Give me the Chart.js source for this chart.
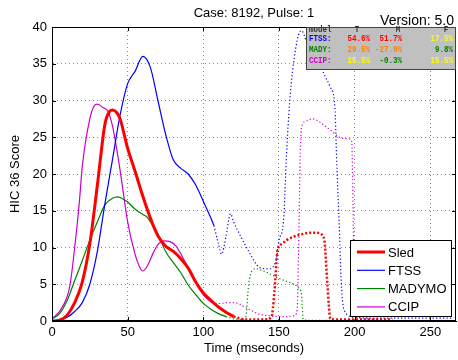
<!DOCTYPE html>
<html>
<head>
<meta charset="utf-8">
<script src="https://cdn.jsdelivr.net/npm/chart.js@4.4.1/dist/chart.umd.min.js"></script>
<style>
  html, body { margin: 0; padding: 0; background: #fff; }
</style>
</head>
<body>
<canvas id="hic" width="458" height="360"></canvas>
<script>
// values (time in ms, HIC 36 score)
const models = ["Sled", "FTSS", "MADYMO", "CCIP"];
const colors = ["#ff0000", "#0000ff", "#008000", "#cc00cc"];

const sledT = [0, 5, 10, 15, 20, 25, 30, 35, 38, 40, 43, 45, 50, 55, 60, 65, 70, 75, 80, 85, 90, 95, 100, 105, 110, 115, 120];
const sledY = [0, 0.1, 0.8, 2.5, 5.3, 10.5, 18.5, 26.8, 28.5, 28.7, 28.3, 27.5, 23.5, 20.3, 17, 14, 11.6, 10.2, 9.5, 8.5, 7.2, 5.3, 3.8, 2.8, 1.9, 1.2, 0.6];
const sledDotT = [120, 125, 130, 135, 140, 145, 147, 149, 152, 155, 160, 165, 170, 175, 178, 180, 182, 184, 190, 200, 210, 225];
const sledDotY = [0.6, 0.3, 0.2, 0.2, 0.2, 0.5, 4, 9.5, 10.5, 11, 11.5, 11.8, 12, 12, 11.8, 11, 5, 0.3, 0.2, 0.2, 0.2, 0.2];

const ftssT = [0, 5, 10, 15, 20, 25, 30, 35, 40, 45, 50, 55, 60, 65, 70, 75, 80, 85, 90, 95, 100, 105, 107];
const ftssY = [0, 0.2, 0.5, 1.3, 2.5, 5, 9.5, 16, 22, 28, 32.3, 34, 36, 34.5, 30, 25.5, 22, 20.8, 20, 18.5, 16.3, 14, 13];
const ftssDotT = [107, 110, 112, 115, 117, 118, 120, 124, 131, 137, 143, 148, 150, 153, 155, 157, 159, 161, 163, 165, 168, 172, 176, 180, 184, 187, 188, 190, 191, 193, 200, 220, 240, 265];
const ftssDotY = [13, 10.5, 9.1, 11.5, 14, 14.6, 13.5, 11.8, 9.1, 7.3, 7.1, 8.2, 11, 13.6, 22.7, 29.6, 34, 37, 39, 39.5, 38.2, 37, 35.5, 33.5, 31.8, 29, 22.7, 12, 6, 1.5, 0.5, 0.4, 0.4, 0.4];

const madyT = [0, 5, 10, 15, 20, 25, 30, 35, 40, 43, 45, 50, 55, 60, 63, 65, 70, 75, 80, 85, 90, 95, 100, 105, 110, 115];
const madyY = [0.3, 1, 2.8, 5.5, 8.2, 11, 13.5, 15.8, 16.7, 16.9, 16.8, 16.2, 15.2, 14.5, 14.1, 13.5, 11.8, 9.5, 8, 6.6, 4.9, 3.6, 2.4, 1.6, 1, 0.6];
const madyDotT = [115, 120, 125, 128, 130, 132, 135, 140, 145, 150, 155, 160, 163, 165, 166, 170, 180, 200];
const madyDotY = [0.6, 0.3, 0.2, 0.5, 5, 6.8, 7.1, 6.8, 6.3, 5.8, 5.4, 5, 4.5, 3.5, 0.2, 0.1, 0.1, 0.1];

const ccipT = [0, 5, 10, 12, 15, 18, 20, 25, 28, 30, 34, 37, 40, 45, 50, 55, 58, 60, 63, 67, 70, 74, 78, 82, 86, 90, 95, 100, 105, 108];
const ccipY = [0.3, 1.3, 3.3, 5, 10, 16, 21, 27.5, 29.3, 29.5, 29, 28.5, 26.5, 20.5, 13.5, 9, 7.3, 6.8, 7.5, 9.3, 10.4, 10.9, 10.8, 10.2, 8.8, 7.2, 5.2, 3.6, 2.6, 2.3];
const ccipDotT = [108, 112, 116, 120, 124, 128, 132, 136, 140, 145, 150, 155, 160, 162, 163, 164, 165, 168, 172, 176, 180, 185, 190, 195, 198, 199, 200, 210, 220];
const ccipDotY = [2.3, 2.4, 2.5, 2.5, 2.3, 1.8, 1.4, 1, 0.8, 0.7, 0.6, 0.6, 0.7, 1.5, 10, 22, 26.4, 27.2, 27.5, 27.2, 26.6, 25.8, 25, 24.8, 24.6, 15, 0.5, 0.3, 0.3];

const xTicks = [0, 50, 100, 150, 200, 250];
const yTicks = [0, 5, 10, 15, 20, 25, 30, 35, 40];

// correlation table (T, M, F) shown top right
const tableRows = ["FTSS:", "MADY:", "CCIP:"];
const tableT = ["54.6%", "29.5%", "15.5%"];
const tableM = ["51.7%", "-27.9%", "-0.3%"];
const tableF = ["17.5%", "9.8%", "15.5%"];
const tableTColors = ["#ff0000", "#ff8000", "#ffff00"];
const tableMColors = ["#ff0000", "#ff8000", "#008000"];
const tableFColors = ["#ffff00", "#008000", "#ffff00"];

const solid = [[sledT, sledY], [ftssT, ftssY], [madyT, madyY], [ccipT, ccipY]];
const dotted = [[sledDotT, sledDotY], [ftssDotT, ftssDotY], [madyDotT, madyDotY], [ccipDotT, ccipDotY]];

function pts(t, y) {
    return t.map((v, i) => ({x: v, y: y[i]}));
}

const datasets = [];
models.forEach((m, i) => {
    datasets.push({
        label: m,
        data: pts(solid[i][0], solid[i][1]),
        borderColor: colors[i],
        borderWidth: i === 0 ? 3 : 1.2,
        pointRadius: 0,
        cubicInterpolationMode: 'monotone'
    });
});
models.forEach((m, i) => {
    datasets.push({
        label: m + " (post)",
        data: pts(dotted[i][0], dotted[i][1]),
        borderColor: colors[i],
        borderWidth: i === 0 ? 2.5 : 1.2,
        borderDash: i === 0 ? [2, 2] : [1.2, 2.3],
        pointRadius: 0,
        cubicInterpolationMode: 'monotone'
    });
});

const font = "Liberation Sans, Arial, sans-serif";

// narrow text for the table cells
function cell(ctx, txt, x, y, align) {
    ctx.save();
    ctx.translate(x, y);
    ctx.scale(0.88, 1);
    ctx.textAlign = align;
    ctx.fillText(txt, 0, 0);
    ctx.restore();
}

const frame = {
    id: 'frame',
    afterDatasetsDraw(chart) {
        const {ctx, chartArea: a, scales} = chart;
        ctx.save();
        // inward tick marks on all four sides
        ctx.strokeStyle = "#000";
        ctx.lineWidth = 1;
        ctx.beginPath();
        xTicks.forEach(v => {
            const px = Math.round(scales.x.getPixelForValue(v)) + 0.5;
            ctx.moveTo(px, a.bottom); ctx.lineTo(px, a.bottom - 4);
            ctx.moveTo(px, a.top); ctx.lineTo(px, a.top + 4);
        });
        yTicks.forEach(v => {
            const py = Math.round(scales.y.getPixelForValue(v)) + 0.5;
            ctx.moveTo(a.left, py); ctx.lineTo(a.left + 4, py);
            ctx.moveTo(a.right, py); ctx.lineTo(a.right - 4, py);
        });
        ctx.stroke();
        ctx.strokeRect(a.left + 0.5, a.top + 0.5, a.right - a.left - 1, a.bottom - a.top - 1);

        // gray table box
        const bx = 306, by = a.top, bw = a.right - bx, bh = 43;
        ctx.fillStyle = "#c0c0c0";
        ctx.fillRect(bx, by, bw, bh);
        ctx.strokeStyle = "#444";
        ctx.strokeRect(bx + 0.5, by + 0.5, bw - 1, bh - 1);
        ctx.font = "bold 8.5px 'Liberation Mono', monospace";
        ctx.textBaseline = "middle";
        ctx.fillStyle = "#333";
        cell(ctx, "model", 309, by + 3, "left");
        cell(ctx, "T", 357, by + 3, "center");
        cell(ctx, "M", 398, by + 3, "center");
        cell(ctx, "F", 446, by + 3, "center");
        tableRows.forEach((r, i) => {
            const ry = by + 12 + i * 11;
            ctx.fillStyle = colors[i + 1];
            cell(ctx, r, 309, ry, "left");
            ctx.fillStyle = tableTColors[i];
            cell(ctx, tableT[i], 370, ry, "right");
            ctx.fillStyle = tableMColors[i];
            cell(ctx, tableM[i], 402, ry, "right");
            ctx.fillStyle = tableFColors[i];
            cell(ctx, tableF[i], 453, ry, "right");
        });

        // legend box
        const lx = 350, ly = 240, lw = 101, lh = 76;
        ctx.fillStyle = "#fff";
        ctx.fillRect(lx, ly, lw, lh);
        ctx.strokeStyle = "#000";
        ctx.lineWidth = 1;
        ctx.strokeRect(lx + 0.5, ly + 0.5, lw, lh);
        ctx.font = "13px " + font;
        ctx.textAlign = "left";
        ctx.fillStyle = "#000";
        models.forEach((m, i) => {
            const ds = chart.data.datasets[i];
            const ry = ly + 12 + i * 18.3;
            ctx.strokeStyle = ds.borderColor;
            ctx.lineWidth = ds.borderWidth;
            ctx.beginPath();
            ctx.moveTo(357, ry); ctx.lineTo(385, ry);
            ctx.stroke();
            ctx.fillText(m, 388, ry + 1);
        });

        // titles
        ctx.fillStyle = "#000";
        ctx.font = "13px " + font;
        ctx.textAlign = "center";
        ctx.fillText("Case: 8192, Pulse: 1", (a.left + a.right) / 2, 13);
        ctx.font = "14px " + font;
        ctx.textAlign = "right";
        ctx.fillText("Version: 5.0", 454, 21);
        ctx.restore();
    }
};

new Chart(document.getElementById("hic").getContext("2d"), {
    type: 'line',
    data: {datasets: datasets},
    options: {
        responsive: false,
        animation: false,
        layout: {padding: {top: 27, right: 2, left: 0, bottom: 0}},
        plugins: {legend: {display: false}, tooltip: {enabled: false}},
        scales: {
            x: {
                type: 'linear',
                min: 0,
                max: 267,
                afterFit: s => { s.height = 39; },
                ticks: {stepSize: 50, includeBounds: false, color: "#000", font: {family: font, size: 13}, padding: 4, maxRotation: 0},
                grid: {color: "#888", drawTicks: false},
                border: {color: "#000", dash: [1, 3]},
                title: {display: true, text: "Time (mseconds)", color: "#000", font: {family: font, size: 13}}
            },
            y: {
                min: 0,
                max: 40,
                afterFit: s => { s.width = 52; },
                ticks: {stepSize: 5, color: "#000", font: {family: font, size: 13}, padding: 5},
                grid: {color: "#888", drawTicks: false},
                border: {color: "#000", dash: [1, 3]},
                title: {display: true, text: "HIC 36 Score", color: "#000", font: {family: font, size: 13}, padding: {top: 8, bottom: 0}}
            }
        }
    },
    plugins: [frame]
});
</script>
</body>
</html>
